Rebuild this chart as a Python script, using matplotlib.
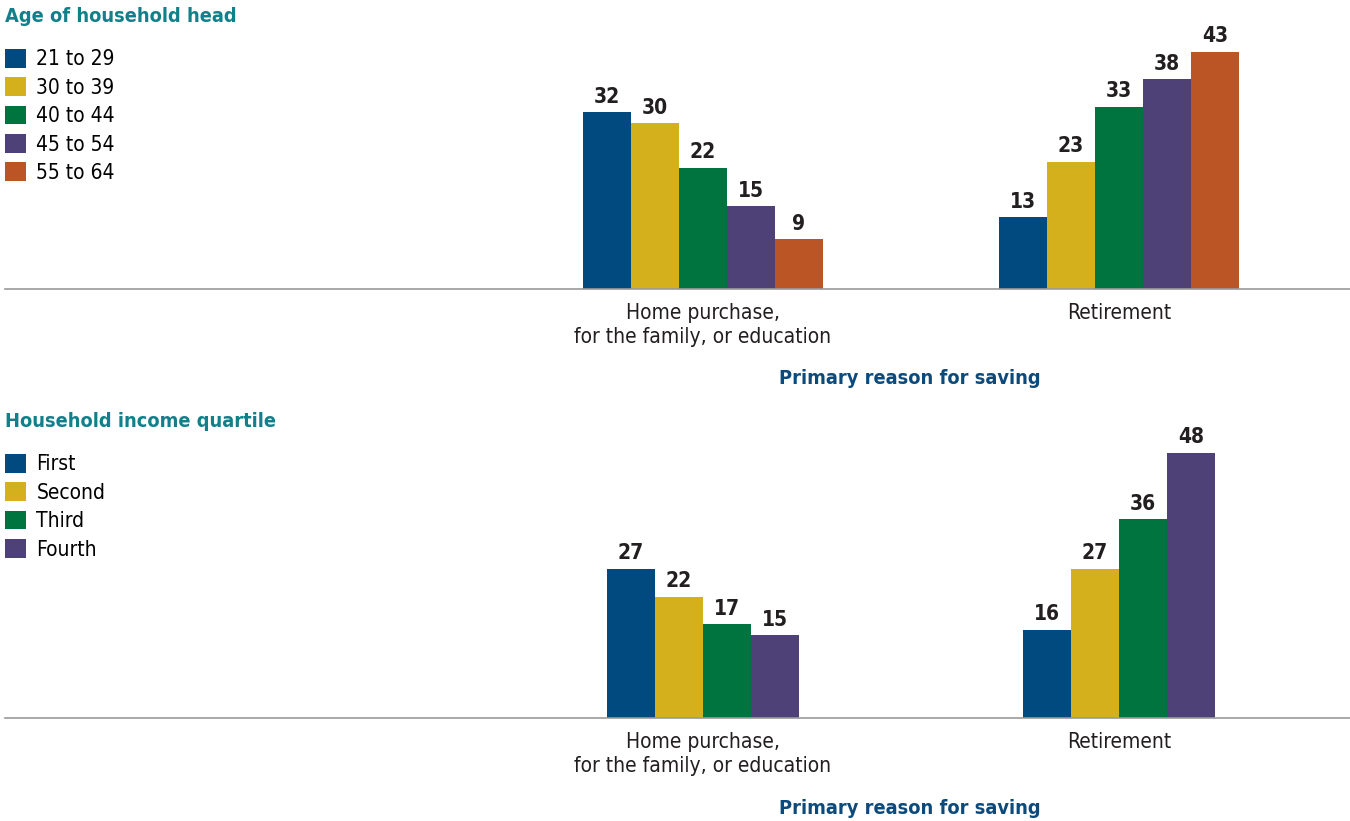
import matplotlib.pyplot as plt
import numpy as np

plt.rcParams['font.family'] = ['DejaVu Sans']
plt.rcParams['font.stretch'] = 'condensed'

reasons = ["Home purchase,\nfor the family, or education", "Retirement"]

age_groups = ["21 to 29", "30 to 39", "40 to 44", "45 to 54", "55 to 64"]
age_values = [
    [32, 13],
    [30, 23],
    [22, 33],
    [15, 38],
    [9, 43],
]

income_groups = ["First", "Second", "Third", "Fourth"]
income_values = [
    [27, 16],
    [22, 27],
    [17, 36],
    [15, 48],
]

colors = ["#004a80", "#d4b11c", "#00743f", "#4e4178", "#bb5526"]
teal = "#12808a"
navy = "#0d4a7c"
W, H = 1350, 821

fig = plt.figure(figsize=(W / 100, H / 100), dpi=100)


def panel(top_px, base_px, groups, values, title, title_y, leg_y, reason_y):
    ax = fig.add_axes([5 / W, 1 - base_px / H, 1345 / W, (base_px - top_px) / H])
    x = np.arange(len(reasons))
    w = 48 / 416
    n = len(groups)
    for i, (g, v) in enumerate(zip(groups, values)):
        bars = ax.bar(x + (i - (n - 1) / 2) * w, v, width=w, color=colors[i],
                      label=g, linewidth=0)
        ax.bar_label(bars, padding=4, fontsize=15, fontweight='bold', color='#231f20')
    ax.set_xlim(-698 / 416, 647 / 416)
    ax.set_ylim(0, (base_px - top_px) / 5.52)
    for s in ['top', 'right', 'left']:
        ax.spines[s].set_visible(False)
    ax.spines['bottom'].set_color('#9a9a9a')
    ax.spines['bottom'].set_linewidth(1.2)
    ax.set_yticks([])
    ax.set_xticks(x)
    ax.set_xticklabels(reasons, fontsize=15, color='#231f20', linespacing=1.25)
    ax.tick_params(axis='x', length=0, pad=10)
    fig.text(5 / W, 1 - title_y / H, title, fontsize=14.3, fontweight='bold',
             color=teal, va='center', ha='left')
    ax.legend(loc='upper left', bbox_to_anchor=(5 / W, 1 - leg_y / H),
              bbox_transform=fig.transFigure, frameon=False, fontsize=15,
              handlelength=1.0, handleheight=1.0, handletextpad=0.5,
              labelspacing=0.38, borderaxespad=0, borderpad=0)
    fig.text(910 / W, 1 - reason_y / H, "Primary reason for saving", fontsize=14.3,
             fontweight='bold', color=navy, va='center', ha='center')


panel(30, 289, age_groups, age_values, "Age of household head", 16, 49, 379)
panel(440, 718, income_groups, income_values, "Household income quartile", 421, 454, 808)

fig.savefig("out.png", dpi=100)
